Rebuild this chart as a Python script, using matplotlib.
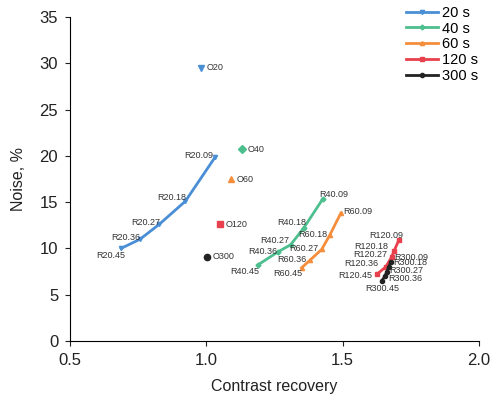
import matplotlib
matplotlib.use("Agg")
import matplotlib.pyplot as plt

plt.rcParams["font.family"] = ["Liberation Sans", "DejaVu Sans"]

# series: contrast recovery (x) and noise % (y), ordered .09 -> .45
series = ["20 s", "40 s", "60 s", "120 s", "300 s"]
x20 = [1.033, 0.923, 0.827, 0.757, 0.687]
y20 = [19.9, 15.1, 12.6, 11.0, 10.0]
x40 = [1.426, 1.357, 1.309, 1.261, 1.188]
y40 = [15.3, 12.2, 10.4, 9.6, 8.2]
x60 = [1.493, 1.452, 1.423, 1.379, 1.349]
y60 = [13.8, 11.4, 9.9, 8.7, 7.9]
x120 = [1.706, 1.688, 1.680, 1.658, 1.625]
y120 = [10.9, 9.7, 9.1, 8.0, 7.2]
x300 = [1.676, 1.669, 1.662, 1.655, 1.643]
y300 = [8.5, 8.0, 7.5, 7.0, 6.5]
betas = ["09", "18", "27", "36", "45"]

# single points (O)
ox = [0.982, 1.132, 1.092, 1.051, 1.003]
oy = [29.5, 20.7, 17.5, 12.6, 9.1]
olabels = ["O20", "O40", "O60", "O120", "O300"]

xs = [x20, x40, x60, x120, x300]
ys = [y20, y40, y60, y120, y300]
prefixes = ["R20.", "R40.", "R60.", "R120.", "R300."]

colors = ["#4a8fd6", "#4dbf8f", "#f58e3c", "#e8404c", "#222222"]
markers = ["v", "D", "^", "s", "o"]
msizes = [3, 2.5, 3, 3, 3]

# label offsets in pixels (dx, dy, ha)
offs = [
    [(-2, 1, "right"), (1, 4, "right"), (1, 2, "right"), (0, 2, "right"), (4, -7, "right")],
    [(-3, 5, "left"), (3, 6, "right"), (-1, 4, "right"), (0, 1, "right"), (2, -6, "right")],
    [(2, 2, "left"), (-2, 1, "right"), (-3, 1, "right"), (-3, 1, "right"), (1, -6, "right")],
    [(-13, 5, "center"), (-6, 5, "right"), (-5, 2, "right"), (-7, 3, "right"), (-5, -1, "right")],
    [(4, 5, "left"), (4, 4, "left"), (2, 1, "left"), (3, -2, "left"), (1, -8, "center")],
]

fig = plt.figure(figsize=(4.91, 4.05), dpi=100)
ax = fig.add_axes([0.1426, 0.158, 0.8330, 0.800])

for i in range(5):
    ax.plot(xs[i], ys[i], color=colors[i], marker=markers[i], markersize=msizes[i],
            linewidth=2, label=series[i])
    for j in range(5):
        dx, dy, ha = offs[i][j]
        ax.annotate(prefixes[i] + betas[j], (xs[i][j], ys[i][j]), xytext=(dx, dy),
                    textcoords="offset pixels", ha=ha, va="center", fontsize=6.5,
                    color="#333333")
    ax.plot(ox[i], oy[i], color=colors[i], marker=markers[i], markersize=msizes[i] + 1.5,
            linestyle="none")
    ax.annotate(olabels[i], (ox[i], oy[i]), xytext=(5, 0), textcoords="offset pixels",
                ha="left", va="center", fontsize=6.5, color="#333333")

ax.set_xlim(0.5, 2.0)
ax.set_ylim(0, 35)
ax.set_xticks([0.5, 1.0, 1.5, 2.0])
ax.set_yticks(range(0, 36, 5))
ax.spines["top"].set_visible(False)
ax.spines["right"].set_visible(False)
ax.tick_params(labelsize=12, color="#222222", labelcolor="#222222", pad=5)
ax.set_xlabel("Contrast recovery", fontsize=11.5, color="#222222", labelpad=8)
ax.set_ylabel("Noise, %", fontsize=11.5, color="#222222", labelpad=10)

leg = ax.legend(loc="upper right", bbox_to_anchor=(1.03, 1.075), frameon=False,
                fontsize=10.5, handlelength=2.2, handletextpad=0.3, labelspacing=0.12,
                markerscale=1.0)

fig.savefig("out.png", dpi=100)
